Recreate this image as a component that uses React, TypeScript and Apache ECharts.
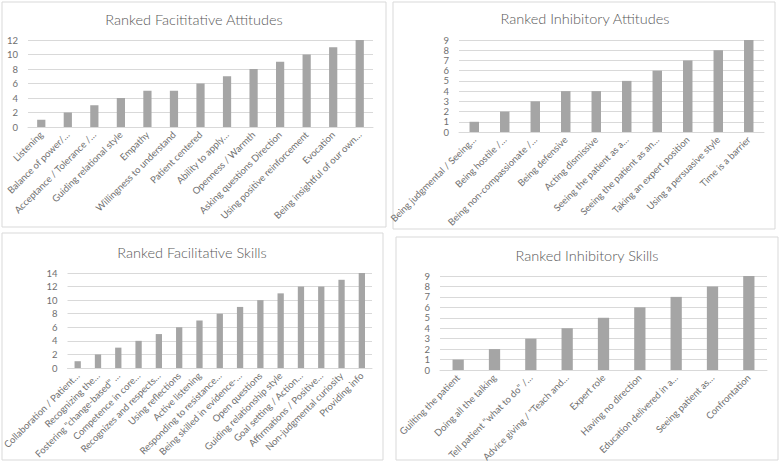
import React, { useEffect, useRef } from "react";
import * as echarts from "echarts";

const facAttCats = [
  "Listening",
  "Balance of power/…",
  "Acceptance / Tolerance /…",
  "Guiding relational style",
  "Empathy",
  "Willingness to understand",
  "Patient centered",
  "Ability to apply…",
  "Openness / Warmth",
  "Asking questions Direction",
  "Using positive reinforcement",
  "Evocation",
  "Being insightful of our own…",
];
const facAttVals = [1, 2, 3, 4, 5, 5, 6, 7, 8, 9, 10, 11, 12];

const inhAttCats = [
  "Being judgmental / Seeing…",
  "Being hostile /…",
  "Being non-compassionate /…",
  "Being defensive",
  "Acting dismissive",
  "Seeing the patient as a…",
  "Seeing the patient as an…",
  "Taking an expert position",
  "Using a persuasive style",
  "Time is a barrier",
];
const inhAttVals = [1, 2, 3, 4, 4, 5, 6, 7, 8, 9];

const facSkillCats = [
  "Collaboration / Patient…",
  "Recognizing the…",
  "Fostering \"change-based\" …",
  "Competence in core…",
  "Recognizes and respects…",
  "Using reflections",
  "Active listening",
  "Responding to resistance…",
  "Being skilled in evidence-…",
  "Open questions",
  "Guiding relationship style",
  "Goal setting / Action…",
  "Affirmations / Positive…",
  "Non-judgmental curiosity",
  "Providing info",
];
const facSkillVals = [1, 2, 3, 4, 5, 6, 7, 8, 9, 10, 11, 12, 12, 13, 14];

const inhSkillCats = [
  "Guilting the patient",
  "Doing all the talking",
  "Tell patient \"what to do\" /…",
  "Advice giving / \"Teach and…",
  "Expert role",
  "Having no direction",
  "Education delivered in a…",
  "Seeing patient as…",
  "Confrontation",
];
const inhSkillVals = [1, 2, 3, 4, 5, 6, 7, 8, 9];

const titles = [
  "Ranked Facititative Attitudes",
  "Ranked Inhibitory Attitudes",
  "Ranked Facilitative Skills",
  "Ranked Inhibitory Skills",
];
const yMax = [12, 9, 14, 9];
const yInterval = [2, 1, 2, 1];

const FONT = "Lato, 'Open Sans', sans-serif";
const TXT = "#595959";
const LBL = "#6f6f6f";
const GRID = "#d9d9d9";
const BAR = "#a5a5a5";

export default function App() {
  const ref = useRef<HTMLDivElement>(null);
  useEffect(() => {
    if (!ref.current) return;
    const chart = echarts.init(ref.current, null, { renderer: "svg" });
    const cats = [facAttCats, inhAttCats, facSkillCats, inhSkillCats];
    const vals = [facAttVals, inhAttVals, facSkillVals, inhSkillVals];
    const grids = [
      { left: 28, top: 40, width: 345, height: 87 },
      { left: 459, top: 40, width: 305, height: 92 },
      { left: 62, top: 273, width: 310, height: 95 },
      { left: 440, top: 276, width: 327, height: 94 },
    ];
    const titlePos = [
      { x: 194, y: 19 },
      { x: 585, y: 18 },
      { x: 192, y: 252 },
      { x: 587, y: 255 },
    ];
    const boxes = [
      { x: 2, y: 2, width: 384, height: 225 },
      { x: 393, y: 2, width: 382, height: 227 },
      { x: 2, y: 233, width: 381, height: 227 },
      { x: 396, y: 237, width: 382, height: 223 },
    ];
    const option: any = {
      animation: false,
      backgroundColor: "#ffffff",
      graphic: [
        ...boxes.map((b) => ({
          type: "rect",
          shape: b,
          style: { fill: "#ffffff", stroke: GRID, lineWidth: 1 },
          z: -10,
          silent: true,
        })),
        ...titles.map((t, i) => ({
          type: "text",
          x: titlePos[i].x,
          y: titlePos[i].y,
          style: {
            text: t,
            fill: TXT,
            font: `300 14.5px ${FONT}`,
            textAlign: "center",
            textVerticalAlign: "middle",
          },
        })),
      ],
      grid: grids.map((g) => ({ ...g, containLabel: false })),
      xAxis: cats.map((c, i) => ({
        type: "category",
        gridIndex: i,
        data: c,
        axisLine: { lineStyle: { color: GRID } },
        axisTick: { show: false },
        axisLabel: {
          rotate: 45,
          interval: 0,
          color: LBL,
          fontFamily: FONT,
          fontSize: 9.5,
          margin: 6,
        },
      })),
      yAxis: cats.map((_, i) => ({
        type: "value",
        gridIndex: i,
        min: 0,
        max: yMax[i],
        interval: yInterval[i],
        axisLine: { show: false },
        axisTick: { show: false },
        splitLine: { lineStyle: { color: GRID } },
        axisLabel: { color: LBL, fontFamily: FONT, fontSize: 9.5, margin: 10 },
      })),
      series: vals.map((v, i) => ({
        type: "bar",
        xAxisIndex: i,
        yAxisIndex: i,
        data: v,
        barWidth: "31%",
        itemStyle: { color: BAR },
      })),
    };
    chart.setOption(option);
    return () => chart.dispose();
  }, []);
  return (
    <div
      ref={ref}
      style={{ position: "absolute", left: 0, top: 0, width: 779, height: 465 }}
    />
  );
}
